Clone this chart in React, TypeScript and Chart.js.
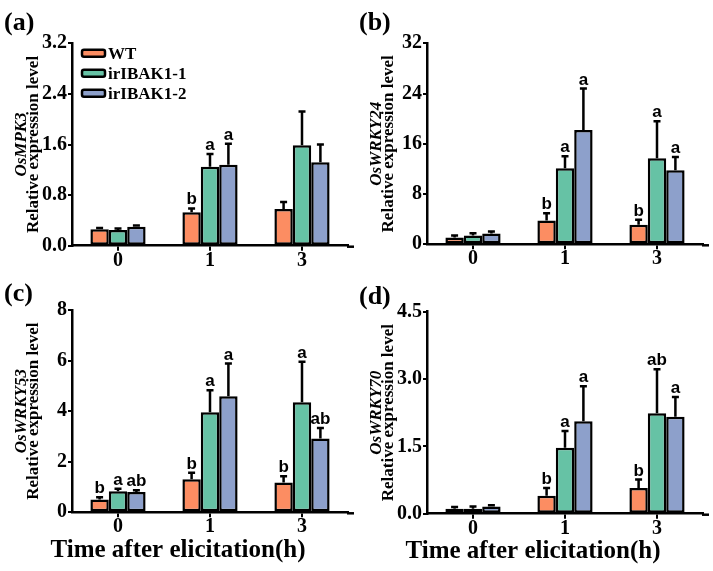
import React, { useEffect, useRef } from 'react';
import { Chart, registerables } from 'chart.js';

Chart.register(...registerables);

const CATEGORIES = ['0', '1', '3'];
const SERIES_NAMES = ['WT', 'irIBAK1-1', 'irIBAK1-2'];
const SERIES_COLORS = ['#FC8D62', '#66C2A5', '#8DA0CB'];
const X_TITLE = 'Time after elicitation(h)';
const Y_TITLE = 'Relative expression level';

// (a) OsMPK3
const MPK3_WT = [0.26, 0.53, 0.58];
const MPK3_L1 = [0.25, 1.25, 1.59];
const MPK3_L2 = [0.30, 1.28, 1.32];
const MPK3_WT_SD = [0.02, 0.06, 0.11];
const MPK3_L1_SD = [0.02, 0.2, 0.53];
const MPK3_L2_SD = [0.02, 0.33, 0.28];
const MPK3_WT_LET = ['', 'b', ''];
const MPK3_L1_LET = ['', 'a', ''];
const MPK3_L2_LET = ['', 'a', ''];
const MPK3_Y = { max: 3.2, step: 0.8, decimals: 1 };

// (b) OsWRKY24
const W24_WT = [1.1, 3.8, 3.1];
const W24_L1 = [1.4, 12.1, 13.7];
const W24_L2 = [1.7, 18.2, 11.8];
const W24_WT_SD = [0.3, 1.15, 0.8];
const W24_L1_SD = [0.35, 1.9, 5.9];
const W24_L2_SD = [0.35, 6.6, 2.1];
const W24_WT_LET = ['', 'b', 'b'];
const W24_L1_LET = ['', 'a', 'a'];
const W24_L2_LET = ['', 'a', 'a'];
const W24_Y = { max: 32, step: 8, decimals: 0 };

// (c) OsWRKY53
const W53_WT = [0.51, 1.31, 1.18];
const W53_L1 = [0.83, 3.96, 4.35];
const W53_L2 = [0.8, 4.59, 2.92];
const W53_WT_SD = [0.09, 0.25, 0.25];
const W53_L1_SD = [0.1, 0.87, 1.6];
const W53_L2_SD = [0.07, 1.29, 0.41];
const W53_WT_LET = ['b', 'b', 'b'];
const W53_L1_LET = ['a', 'a', 'a'];
const W53_L2_LET = ['ab', 'a', 'ab'];
const W53_Y = { max: 8, step: 2, decimals: 0 };

// (d) OsWRKY70
const W70_WT = [0.11, 0.4, 0.57];
const W70_L1 = [0.11, 1.47, 2.24];
const W70_L2 = [0.16, 2.06, 2.16];
const W70_WT_SD = [0.04, 0.17, 0.19];
const W70_L1_SD = [0.05, 0.37, 0.98];
const W70_L2_SD = [0.03, 0.78, 0.44];
const W70_WT_LET = ['', 'b', 'b'];
const W70_L1_LET = ['', 'a', 'ab'];
const W70_L2_LET = ['', 'a', 'a'];
const W70_Y = { max: 4.5, step: 1.5, decimals: 1 };

const SERIF = '"Liberation Serif", "Times New Roman", serif';
const SANS = '"Liberation Sans", Arial, sans-serif';

type PanelProps = {
  tag: string;
  gene: string;
  means: number[][];
  sds: number[][];
  letters: string[][];
  yAxis: { max: number; step: number; decimals: number };
  left: number;
  top: number;
  width: number;
  height: number;
  areaTop: number;
  areaBottom: number;
  tagY: number;
  legend: boolean;
  xTitle: boolean;
};

function Panel(p: PanelProps) {
  const ref = useRef<HTMLCanvasElement | null>(null);
  useEffect(() => {
    if (!ref.current) return;
    const annot = {
      id: 'annot',
      afterDatasetsDraw(chart: any) {
        const ctx = chart.ctx;
        const ys = chart.scales.y;
        ctx.save();
        ctx.strokeStyle = '#000';
        ctx.fillStyle = '#000';
        ctx.lineWidth = 2.5;
        chart.data.datasets.forEach((ds: any, d: number) => {
          const meta = chart.getDatasetMeta(d);
          meta.data.forEach((el: any, i: number) => {
            const v = ds.data[i] + p.sds[d][i];
            const yt = ys.getPixelForValue(v);
            ctx.beginPath();
            ctx.moveTo(el.x, el.y);
            ctx.lineTo(el.x, yt);
            ctx.moveTo(el.x - 3.5, yt);
            ctx.lineTo(el.x + 3.5, yt);
            ctx.stroke();
            const l = p.letters[d][i];
            if (l) {
              ctx.font = `bold 17px ${SANS}`;
              ctx.textAlign = 'center';
              ctx.textBaseline = 'alphabetic';
              ctx.fillText(l, el.x, yt - 4);
            }
          });
        });
        ctx.restore();
      },
      afterDraw(chart: any) {
        const ctx = chart.ctx;
        const a = chart.chartArea;
        ctx.save();
        // extend x axis line slightly to the right
        ctx.strokeStyle = '#000';
        ctx.lineWidth = 2.5;
        ctx.beginPath();
        ctx.moveTo(a.right - 1, a.bottom + 1);
        ctx.lineTo(a.right + 6, a.bottom + 1);
        ctx.stroke();
        // panel tag
        ctx.fillStyle = '#000';
        ctx.font = `bold 26px ${SERIF}`;
        ctx.textAlign = 'left';
        ctx.textBaseline = 'middle';
        ctx.fillText(p.tag, 4, p.tagY);
        // x title
        if (p.xTitle) {
          ctx.font = `bold 25px ${SERIF}`;
          ctx.textAlign = 'center';
          ctx.textBaseline = 'middle';
          ctx.fillText(X_TITLE, 178, a.bottom + 38);
        }
        // y title (two lines, rotated)
        const cy = (a.top + a.bottom) / 2;
        ctx.save();
        ctx.translate(22, cy);
        ctx.rotate(-Math.PI / 2);
        ctx.textAlign = 'center';
        ctx.textBaseline = 'middle';
        ctx.font = `italic bold 17px ${SERIF}`;
        ctx.fillText(p.gene, 0, 0);
        ctx.restore();
        ctx.save();
        ctx.translate(34, cy);
        ctx.rotate(-Math.PI / 2);
        ctx.textAlign = 'center';
        ctx.textBaseline = 'middle';
        ctx.font = `bold 17px ${SERIF}`;
        ctx.fillText(Y_TITLE, 0, 0);
        ctx.restore();
        // legend
        if (p.legend) {
          chart.data.datasets.forEach((ds: any, d: number) => {
            const yc = a.top + 10 + d * 20;
            const bx = a.left + 10;
            ctx.beginPath();
            ctx.lineWidth = 2.5;
            ctx.fillStyle = ds.backgroundColor;
            ctx.strokeStyle = '#000';
            ctx.roundRect(bx, yc - 3.5, 23, 7, 2);
            ctx.fill();
            ctx.stroke();
            ctx.fillStyle = '#000';
            ctx.font = `bold 17px ${SERIF}`;
            ctx.textAlign = 'left';
            ctx.textBaseline = 'middle';
            ctx.fillText(ds.label, bx + 26, yc + 1);
          });
        }
        ctx.restore();
      },
    };
    const chart = new Chart(ref.current, {
      type: 'bar',
      data: {
        labels: CATEGORIES,
        datasets: SERIES_NAMES.map((name, d) => ({
          label: name,
          data: p.means[d],
          backgroundColor: SERIES_COLORS[d],
          borderColor: '#000',
          borderWidth: 2.5,
          borderSkipped: false,
          barPercentage: 1,
          categoryPercentage: 0.6,
        })),
      },
      options: {
        responsive: false,
        animation: false,
        devicePixelRatio: 1,
        layout: { padding: { top: p.areaTop, right: 8, bottom: 0, left: 0 } },
        plugins: { legend: { display: false }, tooltip: { enabled: false } },
        scales: {
          x: {
            offset: true,
            afterFit: (s: any) => {
              s.height = p.height - p.areaBottom;
            },
            grid: {
              display: true,
              drawOnChartArea: false,
              offset: false,
              tickLength: 5,
              lineWidth: 2,
              color: '#000',
            },
            border: { display: true, color: '#000', width: 2.5 },
            ticks: {
              color: '#000',
              padding: 0,
              font: { family: SERIF, size: 20, weight: 'bold', lineHeight: 1 },
            },
          },
          y: {
            min: 0,
            max: p.yAxis.max,
            afterFit: (s: any) => {
              s.width = 72;
            },
            grid: {
              display: true,
              drawOnChartArea: false,
              tickLength: 4,
              lineWidth: 2,
              color: '#000',
            },
            border: { display: true, color: '#000', width: 2.5 },
            ticks: {
              stepSize: p.yAxis.step,
              color: '#000',
              padding: 1,
              font: { family: SERIF, size: 20, weight: 'bold' },
              callback: (v: any) => Number(v).toFixed(p.yAxis.decimals),
            },
          },
        },
      },
      plugins: [annot],
    } as any);
    return () => chart.destroy();
  }, []);
  return (
    <div style={{ position: 'absolute', left: p.left, top: p.top, width: p.width, height: p.height }}>
      <canvas ref={ref} width={p.width} height={p.height} style={{ display: 'block' }} />
    </div>
  );
}

export default function App() {
  return (
    <div style={{ position: 'absolute', left: 0, top: 0, width: 713, height: 571, background: '#fff', overflow: 'hidden' }}>
      <Panel
        tag="(a)"
        gene="OsMPK3"
        means={[MPK3_WT, MPK3_L1, MPK3_L2]}
        sds={[MPK3_WT_SD, MPK3_L1_SD, MPK3_L2_SD]}
        letters={[MPK3_WT_LET, MPK3_L1_LET, MPK3_L2_LET]}
        yAxis={MPK3_Y}
        left={0}
        top={0}
        width={356}
        height={272}
        areaTop={43.3}
        areaBottom={245.7}
        tagY={23}
        legend={true}
        xTitle={false}
      />
      <Panel
        tag="(b)"
        gene="OsWRKY24"
        means={[W24_WT, W24_L1, W24_L2]}
        sds={[W24_WT_SD, W24_L1_SD, W24_L2_SD]}
        letters={[W24_WT_LET, W24_L1_LET, W24_L2_LET]}
        yAxis={W24_Y}
        left={355}
        top={0}
        width={356}
        height={272}
        areaTop={43.3}
        areaBottom={244.3}
        tagY={23}
        legend={false}
        xTitle={false}
      />
      <Panel
        tag="(c)"
        gene="OsWRKY53"
        means={[W53_WT, W53_L1, W53_L2]}
        sds={[W53_WT_SD, W53_L1_SD, W53_L2_SD]}
        letters={[W53_WT_LET, W53_L1_LET, W53_L2_LET]}
        yAxis={W53_Y}
        left={0}
        top={272}
        width={356}
        height={299}
        areaTop={38}
        areaBottom={240.3}
        tagY={22}
        legend={false}
        xTitle={true}
      />
      <Panel
        tag="(d)"
        gene="OsWRKY70"
        means={[W70_WT, W70_L1, W70_L2]}
        sds={[W70_WT_SD, W70_L1_SD, W70_L2_SD]}
        letters={[W70_WT_LET, W70_L1_LET, W70_L2_LET]}
        yAxis={W70_Y}
        left={355}
        top={272}
        width={356}
        height={299}
        areaTop={39.7}
        areaBottom={241.7}
        tagY={25}
        legend={false}
        xTitle={true}
      />
    </div>
  );
}
